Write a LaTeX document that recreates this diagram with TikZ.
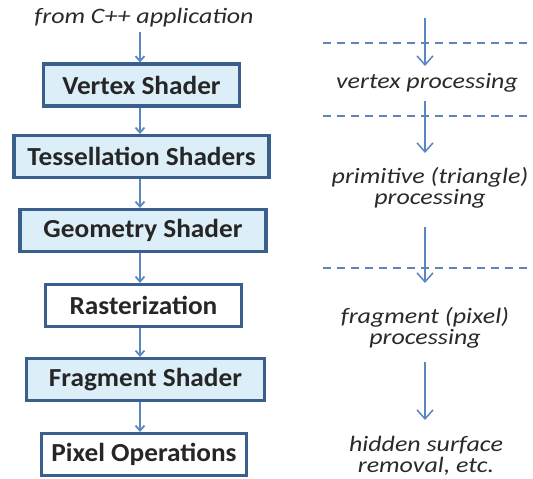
\documentclass[tikz,border=0pt]{standalone}
\usepackage{fontspec}
\setmainfont{Carlito}
\newfontfamily\boxfont[FakeStretch=1.05]{Carlito}
\newfontfamily\notefont[FakeStretch=1.18]{Carlito}
\usetikzlibrary{arrows.meta}
\definecolor{boxline}{HTML}{3B5F8C}
\definecolor{boxfill}{HTML}{DCEEF8}
\definecolor{arrowc}{HTML}{5A86C2}
\definecolor{dashc}{HTML}{5F84B5}
\definecolor{txt}{HTML}{2A2A2A}
\tikzset{
  stagebox/.style={draw=boxline, line width=3.2pt, inner sep=0pt, minimum height=42pt,
    text=black!85, font=\boxfont\bfseries\fontsize{26}{28}\selectfont},
  bluebox/.style={stagebox, fill=boxfill},
  whitebox/.style={stagebox, fill=white},
  note/.style={inner sep=0pt, text=txt, align=center, font=\notefont\itshape\fontsize{22}{20.5}\selectfont},
  larrow/.style={draw=arrowc, line width=1.8pt, -{Straight Barb[length=5pt,width=9pt]}},
  rarrow/.style={draw=arrowc, line width=1.5pt, -{Straight Barb[length=9pt,width=16pt]}},
  dashline/.style={draw=dashc, line width=2pt, dash pattern=on 8pt off 6pt}
}
\begin{document}
\begin{tikzpicture}[x=1pt,y=-1pt]
\useasboundingbox (0,0) rectangle (533,479);
\fill[white] (0,0) rectangle (533,479);
% left column
\node[note] (from) at (144,18) {from C++ application};
\node[bluebox, minimum width=196pt] (vs) at (141.5,85) {Vertex Shader};
\node[bluebox, minimum width=255pt] (ts) at (141.5,156.5) {Tessellation Shaders};
\node[bluebox, minimum width=246pt] (gs) at (143,230.5) {Geometry Shader};
\node[whitebox, minimum width=196pt] (rs) at (143.5,305.5) {Rasterization};
\node[bluebox, minimum width=238pt] (fs) at (145.5,379.5) {Fragment Shader};
\node[whitebox, minimum width=205pt] (po) at (144,454.5) {Pixel Operations};
\coordinate (ax) at (140,0);
\draw[larrow] (from.south -| ax) ++(0,4) -- (vs.north -| ax);
\draw[larrow] (vs.south -| ax) -- (ts.north -| ax);
\draw[larrow] (ts.south -| ax) -- (gs.north -| ax);
\draw[larrow] (gs.south -| ax) -- (rs.north -| ax);
\draw[larrow] (rs.south -| ax) -- (fs.north -| ax);
\draw[larrow] (fs.south -| ax) -- (po.north -| ax);
% right column
\coordinate (d1a) at (323,43); \coordinate (d1b) at (533,43);
\coordinate (d2a) at (323,116); \coordinate (d2b) at (533,116);
\coordinate (d3a) at (323,268); \coordinate (d3b) at (533,268);
\draw[dashline] (d1a) -- (d1b);
\draw[dashline] (d2a) -- (d2b);
\draw[dashline] (d3a) -- (d3b);
\coordinate (r1s) at (425,18); \coordinate (r1e) at (425,66);
\coordinate (r2s) at (425,101); \coordinate (r2e) at (425,153);
\coordinate (r3s) at (425,227); \coordinate (r3e) at (425,283);
\coordinate (r4s) at (425,362); \coordinate (r4e) at (425,420);
\draw[rarrow] (r1s) -- (r1e);
\draw[rarrow] (r2s) -- (r2e);
\draw[rarrow] (r3s) -- (r3e);
\draw[rarrow] (r4s) -- (r4e);
\node[note] (vp) at (427,83) {vertex processing};
\node[note] (pp) at (430,188) {primitive (triangle)\\processing};
\node[note] (fp) at (425,328) {fragment (pixel)\\processing};
\node[note] (hs) at (426,456) {hidden surface\\removal, etc.};
\end{tikzpicture}
\end{document}
